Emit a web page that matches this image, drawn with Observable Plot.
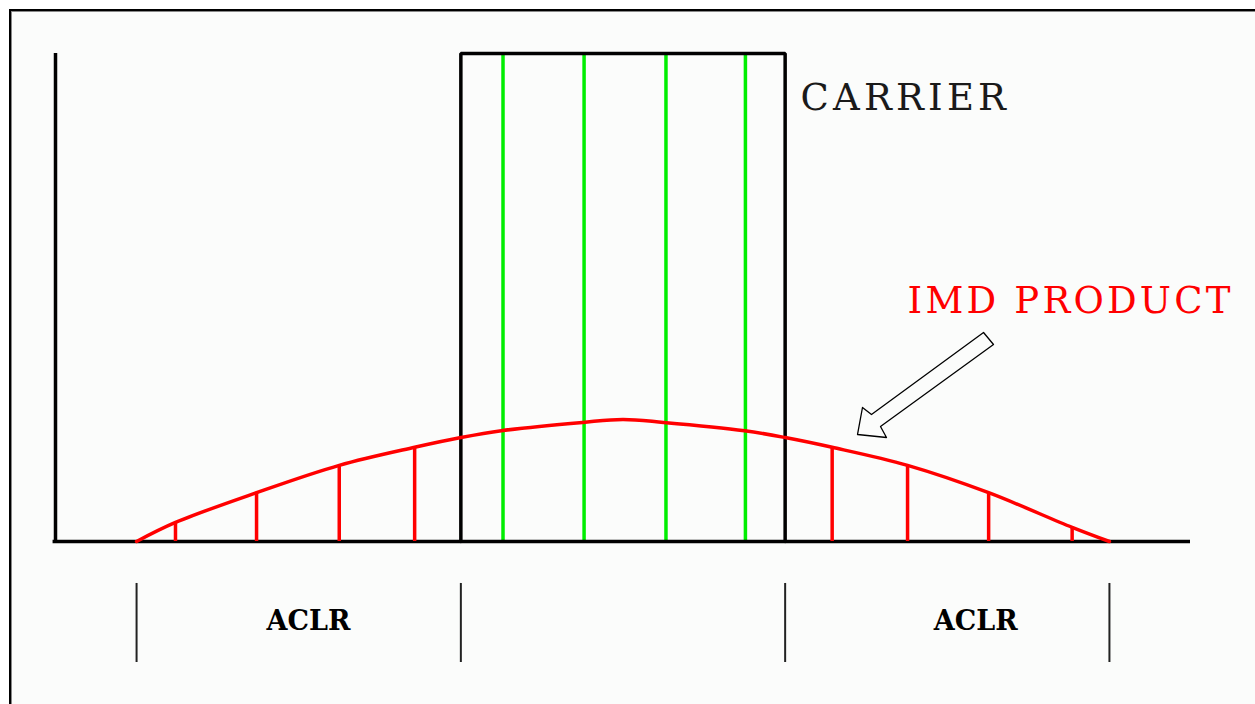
<!DOCTYPE html>
<html>
<head>
<meta charset="utf-8">
<script src="https://cdn.jsdelivr.net/npm/d3@7"></script>
<script src="https://cdn.jsdelivr.net/npm/@observablehq/plot@0.6"></script>
<style>
  html, body { margin: 0; padding: 0; background: #ffffff; }
  #wrap { position: relative; width: 1255px; height: 704px; background: #ffffff; overflow: hidden; }
  #frame { position: absolute; left: 9px; top: 9px; right: 0; bottom: 0;
           border-top: 2px solid #000; border-left: 2px solid #000;
           box-shadow: inset 1px 1px 0 #888; background: #fbfcfb; }
  #chart { position: absolute; left: 0; top: 0; }
</style>
</head>
<body>
<div id="wrap"><div id="frame"></div><div id="chart"></div></div>
<script>
// Frequency offsets (channel units) and relative power levels
const carrierEdges = [-2, 2];
const carrierTop = 10;
const subcarrierX = [-1.48, -0.48, 0.53, 1.51];
const imdX = [-6, -5.52, -4.52, -3.5, -2.57, -2, -1.5, -0.5, 0, 0.5, 1.5, 2, 2.58, 3.51, 4.51, 5.54, 6];
const imdY = [0, 0.39, 1.0, 1.56, 1.93, 2.13, 2.27, 2.44, 2.5, 2.44, 2.27, 2.13, 1.93, 1.56, 1.0, 0.29, 0];
const stemX = [-5.52, -4.52, -3.5, -2.57, 2.58, 3.51, 4.51, 5.54];
const stemY = [0.39, 1.0, 1.56, 1.93, 1.93, 1.56, 1.0, 0.29];
const bandEdges = [-6, -2, 2, 6];
const aclrLabels = ["ACLR", "ACLR"];
const aclrX = [-3.88, 4.35];
const arrowX = [2.893, 2.954, 3.065, 4.447, 4.570, 3.176, 3.250, 2.893];
const arrowY = [2.193, 2.746, 2.602, 4.283, 4.037, 2.357, 2.131, 2.193];

const curve = imdX.map((x, i) => ({x, y: imdY[i]}));
const stems = stemX.map((x, i) => ({x, y: stemY[i]}));
const arrow = arrowX.map((x, i) => ({x, y: arrowY[i]}));
const aclr = aclrLabels.map((t, i) => ({t, x: aclrX[i], y: -1.64}));

const plot = Plot.plot({
  width: 1255,
  height: 704,
  marginTop: 0, marginRight: 0, marginBottom: 0, marginLeft: 0,
  style: {background: "transparent", overflow: "visible"},
  x: {domain: [-7, 7], range: [55, 1190], axis: null},
  y: {domain: [0, 10], range: [541, 53], axis: null},
  marks: [
    Plot.ruleX(subcarrierX, {x: d => d, y1: 0, y2: carrierTop, stroke: "#00ee00", strokeWidth: 3.5}),
    Plot.line([{x: carrierEdges[0], y: 0}, {x: carrierEdges[0], y: carrierTop}, {x: carrierEdges[1], y: carrierTop}, {x: carrierEdges[1], y: 0}],
      {x: "x", y: "y", stroke: "#000", strokeWidth: 3.5, strokeLinejoin: "miter"}),
    Plot.ruleX([-7], {x: d => d, y1: 0, y2: 10, stroke: "#000", strokeWidth: 3.5}),
    Plot.ruleY([0], {y: d => d, x1: -7.03, x2: 7, stroke: "#000", strokeWidth: 3.5}),
    Plot.ruleX(stems, {x: "x", y1: 0, y2: "y", stroke: "#ff0000", strokeWidth: 3.5}),
    Plot.line(curve, {x: "x", y: "y", stroke: "#ff0000", strokeWidth: 3.5, curve: "catmull-rom"}),
    Plot.ruleX(bandEdges, {x: d => d, y1: -0.86, y2: -2.48, stroke: "#222", strokeWidth: 2}),
    Plot.line(arrow, {x: "x", y: "y", stroke: "#000", strokeWidth: 1.3, strokeLinejoin: "round"}),
    Plot.text(["CARRIER"], {x: 2.19, y: 9.08, text: d => d, textAnchor: "start", fill: "#1a1a1a",
      fontFamily: "DejaVu Serif", fontSize: 37}),
    Plot.text(["IMD PRODUCT"], {x: 3.51, y: 4.92, text: d => d, textAnchor: "start", fill: "#ff0000",
      fontFamily: "DejaVu Serif", fontSize: 37}),
    Plot.text(aclr, {x: "x", y: "y", text: "t", fill: "#000", fontFamily: "DejaVu Serif",
      fontSize: 27, fontWeight: "bold"})
  ]
});
d3.select(plot).selectAll("text").filter(function() { return this.textContent === "IMD PRODUCT"; })
  .attr("letter-spacing", "3.2px");
d3.select(plot).selectAll("text").filter(function() { return this.textContent === "CARRIER"; })
  .attr("letter-spacing", "4.2px");
document.getElementById("chart").appendChild(plot);
</script>
</body>
</html>
